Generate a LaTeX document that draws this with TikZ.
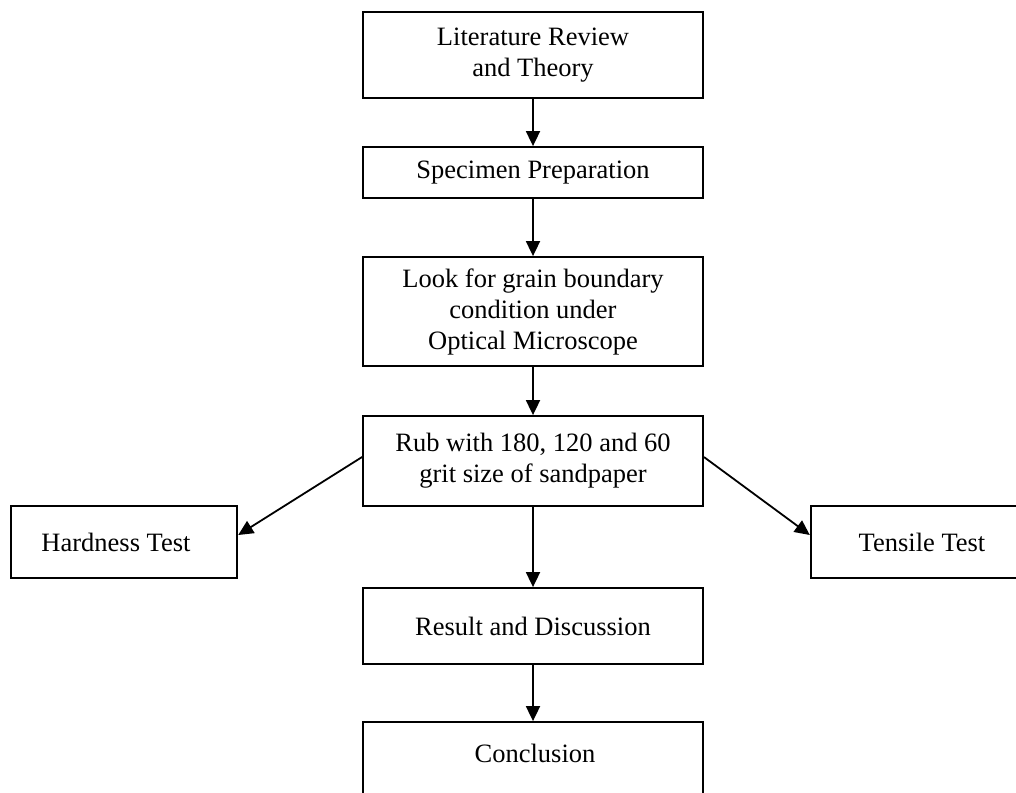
\documentclass[tikz,border=0pt]{standalone}
\usepackage{fontspec}
\setmainfont{Liberation Serif}
\usetikzlibrary{arrows.meta}
\tikzset{
  stepbox/.style={draw=black, line width=1.8pt, fill=white, minimum width=340pt, inner sep=0pt, align=center, font=\fontsize{26.5}{31}\selectfont},
  sidebox/.style={draw=black, line width=1.8pt, fill=white, minimum width=226.6pt, minimum height=72pt, inner sep=0pt, align=center, font=\fontsize{26.5}{31}\selectfont},
  txt/.style={inner sep=0pt, align=center, font=\fontsize{26.5}{31}\selectfont},
  flow/.style={line width=1.8pt, -{Triangle[length=15pt,width=14pt]}}
}
\begin{document}
\begin{tikzpicture}[x=1pt,y=-1pt]
\useasboundingbox (0,0) rectangle (1016,792);
\clip (0,0) rectangle (1016,792);
\fill[white] (0,0) rectangle (1016,792);
\node[stepbox, minimum height=86pt] (lit) at (533,55) {Literature Review\\ and Theory};
\node[stepbox, minimum height=51pt] (spec) at (533,172.5) {Specimen Preparation};
\node[stepbox, minimum height=109pt] (look) at (533,311.5) {Look for grain boundary\\ condition under\\ Optical Microscope};
\node[stepbox, minimum height=90pt] (rub) at (533,461) {Rub with 180, 120 and 60\\ grit size of sandpaper};
\node[sidebox] (hard) at (124,542) {Hardness Test\hspace{16pt}};
\node[sidebox] (tens) at (924,542) {Tensile Test\hspace{4pt}};
\node[stepbox, minimum height=76pt] (res) at (533,626) {Result and Discussion};
\node[stepbox, minimum height=100pt] (conc) at (533,772) {};
\node[txt] (conct) at (535,753) {Conclusion};
\draw[flow] (lit.south) -- (spec.north);
\draw[flow] (spec.south) -- (look.north);
\draw[flow] (look.south) -- (rub.north);
\draw[flow] (rub.south) -- (res.north);
\draw[flow] (res.south) -- (conc.north);
\draw[flow] ([yshift=4pt]rub.west) -- ([yshift=7pt]hard.east);
\draw[flow] ([yshift=4pt]rub.east) -- ([yshift=7pt]tens.west);
\end{tikzpicture}
\end{document}
